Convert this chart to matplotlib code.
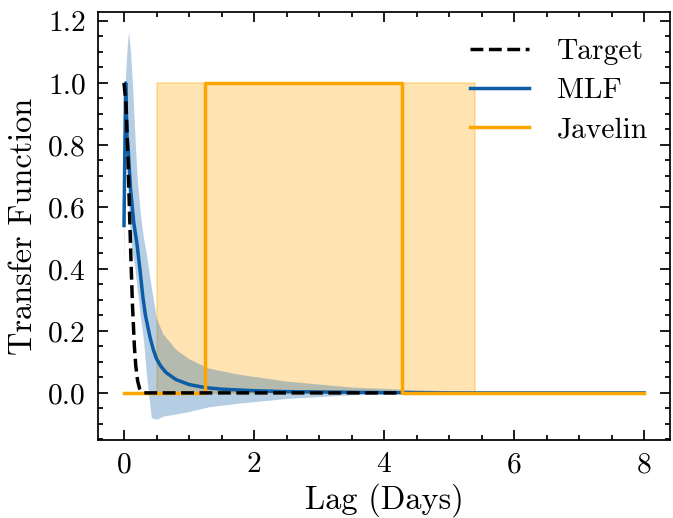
import matplotlib
matplotlib.use("Agg")
import matplotlib.pyplot as plt
from matplotlib.ticker import AutoMinorLocator, MultipleLocator, FormatStrFormatter

# ---------------- data ----------------
target_x = [0.0, 0.03, 0.06, 0.08, 0.10, 0.13, 0.16, 0.18, 0.21, 0.24, 0.27, 0.30, 0.35, 0.40, 1.0, 2.0, 3.0, 4.25]
target_y = [1.0, 0.935, 0.765, 0.62, 0.475, 0.285, 0.149, 0.09, 0.038, 0.014, 0.0044, 0.001, 0.0, 0.0, 0.0, 0.0, 0.0, 0.0]

mlf_x = [0.0, 0.025, 0.046, 0.066, 0.10, 0.15, 0.20, 0.25, 0.29, 0.33, 0.37, 0.40, 0.45, 0.50, 0.57, 0.65, 0.80, 1.0, 1.25, 1.5, 2.0, 2.5, 3.0, 3.5, 4.0, 5.0, 6.0, 7.0, 8.0]
mlf_y = [0.54, 1.0, 0.83, 0.78, 0.66, 0.55, 0.48, 0.39, 0.31, 0.25, 0.21, 0.18, 0.14, 0.11, 0.085, 0.065, 0.043, 0.027, 0.017, 0.012, 0.007, 0.004, 0.003, 0.002, 0.001, 0.0, 0.0, 0.0, 0.0]

band_x = [0.0, 0.02, 0.03, 0.05, 0.07, 0.10, 0.13, 0.17, 0.20, 0.25, 0.30, 0.35, 0.42, 0.50, 0.60, 0.80, 1.0, 1.3, 1.77, 2.5, 3.5, 4.5, 5.5, 6.5, 8.0]
band_upper = [0.70, 1.00, 1.05, 1.12, 1.166, 1.10, 1.00, 0.82, 0.70, 0.58, 0.50, 0.44, 0.34, 0.24, 0.19, 0.14, 0.11, 0.08, 0.06, 0.038, 0.019, 0.010, 0.004, 0.002, 0.0]
band_lower = [0.40, 0.80, 0.85, 0.70, 0.60, 0.50, 0.45, 0.40, 0.34, 0.25, 0.17, 0.05, -0.08, -0.085, -0.075, -0.068, -0.06, -0.045, -0.033, -0.018, -0.006, -0.002, 0.0, 0.0, 0.0]

jav_x = [0.0, 1.25, 1.25, 4.28, 4.28, 8.0]
jav_y = [0.0, 0.0, 1.0, 1.0, 0.0, 0.0]

jav_band_x = [0.5, 5.4]
jav_band_lower = [0.0, 0.0]
jav_band_upper = [1.0, 1.0]

labels = ["Target", "MLF", "Javelin"]

# ---------------- style (SciencePlots-like) ----------------
plt.rcParams.update({
    "font.family": ["cmr10", "DejaVu Serif"],
    "mathtext.fontset": "cm",
    "axes.formatter.use_mathtext": True,
    "font.size": 8.5,
    "axes.labelsize": 9.3,
    "axes.linewidth": 0.5,
    "lines.linewidth": 1.0,
    "xtick.direction": "in",
    "ytick.direction": "in",
    "xtick.major.size": 3,
    "xtick.major.width": 0.5,
    "xtick.minor.size": 1.5,
    "xtick.minor.width": 0.5,
    "ytick.major.size": 3,
    "ytick.major.width": 0.5,
    "ytick.minor.size": 1.5,
    "ytick.minor.width": 0.5,
    "xtick.top": True,
    "ytick.right": True,
    "legend.frameon": False,
})

blue = "#0C5DA5"
orange = "#FFA500"

fig = plt.figure(figsize=(673 / 250, 518 / 250), dpi=250)
ax = fig.add_axes([98 / 673, 78 / 518, 572 / 673, 428 / 518])

ax.fill_between(jav_band_x, jav_band_lower, jav_band_upper, color=orange, alpha=0.3, lw=0.5, zorder=1)
ax.fill_between(band_x, band_lower, band_upper, color=blue, alpha=0.3, lw=0, zorder=2)
ax.plot(mlf_x, mlf_y, color=blue, label=labels[1], zorder=3)
ax.plot(jav_x, jav_y, color=orange, label=labels[2], zorder=4)
ax.plot(target_x, target_y, color="black", ls="--", label=labels[0], zorder=5)

ax.set_xlim(-0.4, 8.4)
ax.set_ylim(-0.152, 1.229)
ax.xaxis.set_major_locator(MultipleLocator(2))
ax.yaxis.set_major_locator(MultipleLocator(0.2))
ax.xaxis.set_minor_locator(AutoMinorLocator(4))
ax.yaxis.set_minor_locator(AutoMinorLocator(4))
ax.yaxis.set_major_formatter(FormatStrFormatter("%.1f"))

ax.set_xlabel("Lag (Days)", labelpad=1.3)
ax.set_ylabel("Transfer Function", labelpad=3.0)

h, l = ax.get_legend_handles_labels()
order = [l.index(s) for s in labels]
ax.legend([h[i] for i in order], [l[i] for i in order], loc="upper right",
          handletextpad=0.95, handlelength=2.0, labelspacing=0.42,
          bbox_to_anchor=(1.008, 1.0))

fig.savefig("out.png", dpi=250)
